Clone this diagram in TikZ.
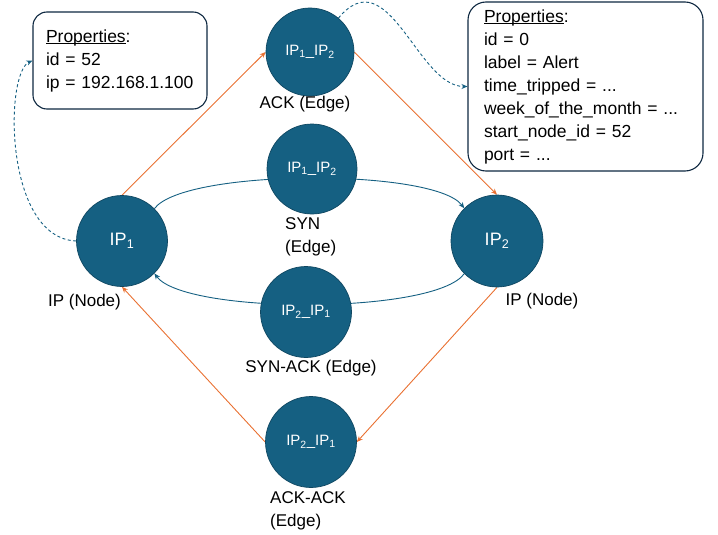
\documentclass[tikz,border=0pt]{standalone}
\usepackage{fontspec}
\setmainfont{Liberation Sans}
\usetikzlibrary{arrows.meta,backgrounds}
\definecolor{netblue}{HTML}{156082}
\definecolor{netrim}{HTML}{0F4761}
\definecolor{netorange}{HTML}{E97132}
\definecolor{boxline}{HTML}{0E2841}

% underline sitting just under the baseline, without changing line depth
\newcommand\keyline[1]{\setbox0\hbox{#1}\rlap{\rule[-2.2pt]{\wd0}{0.8pt}}\box0}

\begin{document}
\begin{tikzpicture}[x=1pt,y=-1pt,
  vertex/.style={circle,fill=netblue,draw=netrim,line width=0.7pt,
    minimum size=#1,inner sep=0pt,text=white},
  hostfont/.style={font=\fontsize{18}{20}\selectfont},
  edgefont/.style={font=\fontsize{15}{18}\selectfont},
  tag/.style={font=\fontsize{17}{23}\selectfont,inner sep=0pt,align=left,text=black},
  propbox/.style={draw=boxline,line width=1.1pt,fill=white,align=left,
    font=\fontsize{17.5}{23}\selectfont,inner ysep=0pt},
  tip/.style={-{Stealth[length=6pt,width=5pt]}},
  handshake/.style={tip,draw=netorange,line width=0.9pt},
  synflow/.style={tip,draw=netblue,line width=0.9pt},
  proplink/.style={tip,draw=netblue,line width=0.9pt,dash pattern=on 3pt off 2.5pt}
]
\useasboundingbox (0,0) rectangle (718,535);

% hosts
\node[vertex=91,hostfont] (ip1) at (122,241) {IP\textsubscript{1}};
\node[vertex=92,hostfont] (ip2) at (497,241) {IP\textsubscript{2}};

% packets between the hosts
\node[vertex=88,edgefont] (ack) at (310,52) {IP\textsubscript{1}\_IP\textsubscript{2}};
\node[vertex=90,edgefont] (syn) at (312,169) {IP\textsubscript{1}\_IP\textsubscript{2}};
\node[vertex=91,edgefont] (synack) at (306,312) {IP\textsubscript{2}\_IP\textsubscript{1}};
\node[vertex=91,edgefont] (ackack) at (311,442) {IP\textsubscript{2}\_IP\textsubscript{1}};

% captions
\node[tag] (ip1cap) at (84.5,302) {IP (Node)};
\node[tag] (ip2cap) at (542,301) {IP (Node)};
\node[tag] (ackcap) at (305,104) {ACK (Edge)};
\node[tag,anchor=west] (syncap) at (285,237) {SYN\\(Edge)};
\node[tag] (synackcap) at (311,368) {SYN-ACK (Edge)};
\node[tag,anchor=west] (ackackcap) at (270,511) {ACK-ACK\\(Edge)};

% property boxes
\node[propbox,rounded corners=14pt,inner xsep=13pt,text width=148pt,
  minimum height=97pt] (lbox) at (120,60.5)
  {\keyline{Properties}:\\id = 52\\ip = 192.168.1.100};
\node[propbox,rounded corners=18pt,inner xsep=16pt,text width=203pt,
  minimum height=169pt] (rbox) at (585.5,86.5)
  {\keyline{Properties}:\\id = 0\\label = Alert\\time\_tripped = ...\\
   week\_of\_the\_month = ...\\start\_node\_id = 52\\port = ...};

\begin{pgfonlayer}{background}
  \draw[handshake] (ip1.north) -- (ack.west);
  \draw[handshake] (ack.east) -- (ip2.north);
  \draw[handshake] (ip2.south) -- (ackack.east);
  \draw[handshake] (ackack.west) -- (ip1.south);
  \draw[synflow] (ip1.45) .. controls +(30,-40) and +(-30,-40) .. (ip2.135);
  \draw[synflow] (ip2.225) .. controls +(-30,41) and +(30,41) .. (ip1.315);
  \draw[proplink] (ip1.west) .. controls +(-72,-3) and +(-28,13) .. (lbox.west);
  \draw[proplink] (ack.50) .. controls +(50,-60) and +(-50,0) .. (rbox.west);
\end{pgfonlayer}
\end{tikzpicture}
\end{document}
